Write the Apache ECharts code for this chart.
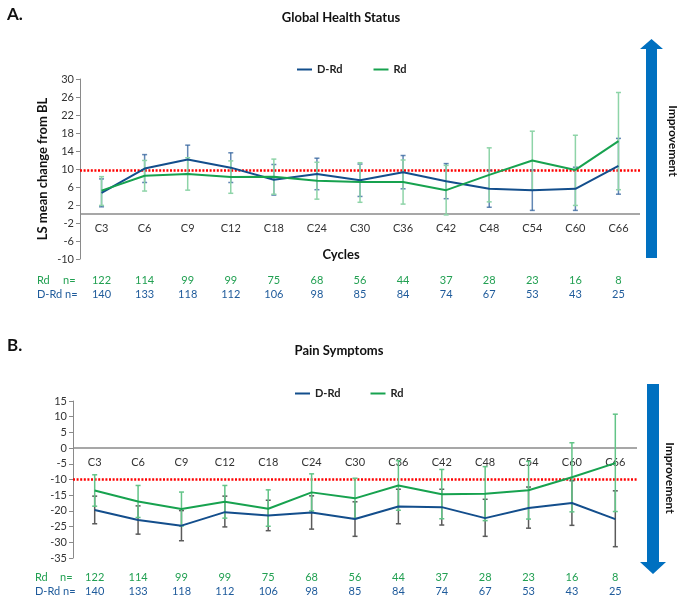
<!DOCTYPE html>
<html><head><meta charset="utf-8">
<script src="https://cdn.jsdelivr.net/npm/echarts@6/dist/echarts.min.js"></script>
<style>html,body{margin:0;padding:0;background:#fff}#c{width:690px;height:602px}</style>
</head><body><div id="c"></div>
<script>
const cycles = ['C3','C6','C9','C12','C18','C24','C30','C36','C42','C48','C54','C60','C66'];
const nRd  = [122,114,99,99,75,68,56,44,37,28,23,16,8];
const nDRd = [140,133,118,112,106,98,85,84,74,67,53,43,25];

// Panel A: Global Health Status
const ghsDRd   = [4.7,10.1,12.1,10.3,7.6,8.9,7.5,9.3,7.3,5.6,5.3,5.6,10.7];
const ghsDRdLo = [1.6,7.0,8.9,7.0,4.2,5.4,3.9,5.6,3.4,1.5,0.8,0.8,4.4];
const ghsDRdHi = [7.8,13.2,15.3,13.6,11.0,12.4,11.1,13.0,11.2,9.7,9.8,10.4,16.8];
const ghsRd    = [5.2,8.5,8.9,8.2,8.3,7.4,7.1,7.1,5.3,8.7,11.9,9.8,16.2];
const ghsRdLo  = [1.9,5.1,5.3,4.6,4.4,3.3,2.6,2.2,-0.2,2.7,5.4,1.9,5.4];
const ghsRdHi  = [8.3,11.9,12.5,11.8,12.2,11.5,11.4,12.0,10.8,14.7,18.4,17.5,27.0];
const ghsRef = 9.8;
const ghsTicks = [-10,-6,-2,2,6,10,14,18,22,26,30];

// Panel B: Pain Symptoms
const painDRd   = [-19.7,-22.9,-24.7,-20.4,-21.5,-20.5,-22.6,-18.6,-18.8,-22.3,-19.1,-17.5,-22.6];
const painDRdLo = [-24.1,-27.4,-29.5,-25.1,-26.3,-25.8,-28.1,-24.1,-24.5,-28.1,-25.5,-24.6,-31.4];
const painDRdHi = [-15.3,-18.4,-19.9,-15.3,-16.6,-15.2,-17.1,-13.1,-13.1,-16.3,-12.4,-10.4,-13.6];
const painRd    = [-13.5,-17.0,-19.4,-17.1,-19.3,-14.1,-16.0,-11.9,-14.7,-14.5,-13.4,-9.3,-4.8];
const painRdLo  = [-18.5,-22.1,-24.8,-22.3,-24.9,-20.0,-22.4,-19.8,-22.5,-23.1,-22.6,-20.3,-20.2];
const painRdHi  = [-8.5,-11.9,-14.0,-11.9,-13.3,-8.2,-9.6,-4.0,-6.8,-5.9,-4.2,1.7,10.8];
const painRef = -10;

const FONT = 'Lato, "Open Sans", sans-serif';
const C_DRD = '#134E8C', C_RD = '#17A24F';
const C_NRD = '#22A052', C_NDRD = '#1F5B9B';

function errRender(params, api) {
  const i = api.value(0);
  const lo = api.coord([i, api.value(1)]);
  const hi = api.coord([i, api.value(2)]);
  const cw = 2.5;
  const st = { stroke: api.visual('color'), lineWidth: 1.5 };
  return { type: 'group', children: [
    { type: 'line', shape: { x1: lo[0], y1: lo[1], x2: hi[0], y2: hi[1] }, style: st },
    { type: 'line', shape: { x1: lo[0]-cw, y1: lo[1], x2: lo[0]+cw, y2: lo[1] }, style: st },
    { type: 'line', shape: { x1: hi[0]-cw, y1: hi[1], x2: hi[0]+cw, y2: hi[1] }, style: st }
  ]};
}
function errSeries(name, xi, yi, lo, hi, color) {
  return { name: name, type: 'custom', xAxisIndex: xi, yAxisIndex: yi, renderItem: errRender,
    itemStyle: { color: color }, encode: { x: 0, y: [1, 2] }, silent: true, z: 2,
    data: cycles.map((c, i) => [i, lo[i], hi[i]]) };
}
function lineSeries(name, xi, yi, data, color, ref) {
  const s = { name: name, type: 'line', xAxisIndex: xi, yAxisIndex: yi, data: data, symbol: 'none',
    lineStyle: { color: color, width: 2 }, itemStyle: { color: color }, z: 3, silent: true };
  if (ref !== undefined) {
    s.markLine = { silent: true, symbol: 'none', label: { show: false }, z: 1,
      data: [
        { yAxis: ref, lineStyle: { color: '#FF0000', type: [2, 1.6], width: 2.5 } },
        { yAxis: 0, lineStyle: { color: '#8a8a8a', type: 'solid', width: 1.5 } }
      ] };
  }
  return s;
}
function mainX(gi, offset) {
  return { gridIndex: gi, type: 'category', data: cycles, position: 'bottom', boundaryGap: true, offset: offset,
    axisLine: { show: false, onZero: false }, axisTick: { show: false },
    axisLabel: { color: '#333', fontSize: 11, margin: 9, fontFamily: FONT, interval: 0 }, splitLine: { show: false } };
}
function nX(gi, margin) {
  return { gridIndex: gi, type: 'category', data: cycles, position: 'bottom', boundaryGap: true,
    axisLine: { show: false, onZero: false }, axisTick: { show: false }, splitLine: { show: false },
    axisLabel: { margin: margin, fontFamily: FONT, interval: 0,
      formatter: (v, i) => '{r|' + nRd[i] + '}\n{d|' + nDRd[i] + '}',
      rich: { r: { color: C_NRD, fontSize: 11, lineHeight: 14, fontFamily: FONT },
              d: { color: C_NDRD, fontSize: 11, lineHeight: 14, fontFamily: FONT } } } };
}
function txt(x, y, text, font, fill, align, rot) {
  return { type: 'text', x: x, y: y, rotation: rot || 0, silent: true,
    style: { text: text, font: font, fill: fill, align: align || 'left', verticalAlign: 'middle' } };
}

const option = {
  animation: false,
  backgroundColor: '#fff',
  grid: [
    { left: 80, top: 79, width: 560, height: 180 },
    { left: 73, top: 401, width: 564, height: 157 }
  ],
  legend: [
    { data: ['D-Rd', 'Rd'], left: 297, top: 64, icon: 'rect', itemWidth: 15, itemHeight: 2, itemGap: 31, padding: 0,
      textStyle: { fontWeight: 'bold', fontSize: 11, color: '#222', fontFamily: FONT }, selectedMode: false },
    { data: ['D-Rd', 'Rd'], left: 295, top: 388, icon: 'rect', itemWidth: 15, itemHeight: 2, itemGap: 30, padding: 0,
      textStyle: { fontWeight: 'bold', fontSize: 11, color: '#222', fontFamily: FONT }, selectedMode: false }
  ],
  xAxis: [ mainX(0, -45), nX(0, 14), mainX(1, -110), nX(1, 12) ],
  yAxis: [
    { gridIndex: 0, type: 'value', min: -10, max: 30,
      axisLine: { show: true, onZero: false, lineStyle: { color: '#8a8a8a' } },
      axisTick: { show: true, length: 4, customValues: ghsTicks, lineStyle: { color: '#8a8a8a' } },
      axisLabel: { customValues: ghsTicks, color: '#333', fontSize: 11, margin: 6, fontFamily: FONT },
      splitLine: { show: false } },
    { gridIndex: 1, type: 'value', min: -35, max: 15, interval: 5,
      axisLine: { show: true, onZero: false, lineStyle: { color: '#8a8a8a' } },
      axisTick: { show: true, length: 4, lineStyle: { color: '#8a8a8a' } },
      axisLabel: { color: '#333', fontSize: 11, margin: 6, fontFamily: FONT },
      splitLine: { show: false } }
  ],
  series: [
    errSeries('errA1', 0, 0, ghsDRdLo, ghsDRdHi, 'rgba(45,95,155,0.75)'),
    errSeries('errA2', 0, 0, ghsRdLo, ghsRdHi, '#8ED4A8'),
    lineSeries('D-Rd', 0, 0, ghsDRd, C_DRD, ghsRef),
    lineSeries('Rd', 0, 0, ghsRd, C_RD),
    errSeries('errB1', 2, 1, painDRdLo, painDRdHi, '#5a5a5a'),
    errSeries('errB2', 2, 1, painRdLo, painRdHi, '#62C487'),
    lineSeries('D-Rd', 2, 1, painDRd, C_DRD, painRef),
    lineSeries('Rd', 2, 1, painRd, C_RD)
  ],
  graphic: [
    txt(7, 15, 'A.', 'bold 17px ' + FONT, '#111'),
    txt(341, 18, 'Global Health Status', 'bold 13px ' + FONT, '#111', 'center'),
    txt(7, 346, 'B.', 'bold 17px ' + FONT, '#111'),
    txt(339, 351, 'Pain Symptoms', 'bold 13px ' + FONT, '#111', 'center'),
    txt(43, 169, 'LS mean change from BL', 'bold 13px ' + FONT, '#111', 'center', Math.PI / 2),
    txt(341, 255, 'Cycles', 'bold 13px ' + FONT, '#111', 'center'),
    txt(37, 280, 'Rd', '11px ' + FONT, C_NRD),
    txt(63, 280, 'n=', '11px ' + FONT, C_NRD),
    txt(37, 294, 'D-Rd n=', '11px ' + FONT, C_NDRD),
    txt(35, 577, 'Rd', '11px ' + FONT, C_NRD),
    txt(60, 577, 'n=', '11px ' + FONT, C_NRD),
    txt(35, 591, 'D-Rd n=', '11px ' + FONT, C_NDRD),
    { type: 'polygon', silent: true, shape: { points: [[646,258],[657,258],[657,49],[663,49],[651.5,39],[640,49],[646,49]] },
      style: { fill: '#0070C0' } },
    { type: 'polygon', silent: true, shape: { points: [[647,384],[659,384],[659,562],[666,562],[653,574],[640,562],[647,562]] },
      style: { fill: '#0070C0' } },
    txt(673, 141, 'Improvement', 'bold 12px ' + FONT, '#111', 'center', -Math.PI / 2),
    txt(670, 478, 'Improvement', 'bold 12px ' + FONT, '#111', 'center', -Math.PI / 2)
  ]
};
const chart = echarts.init(document.getElementById('c'), null, { renderer: 'canvas' });
chart.setOption(option);
</script>
</body></html>
